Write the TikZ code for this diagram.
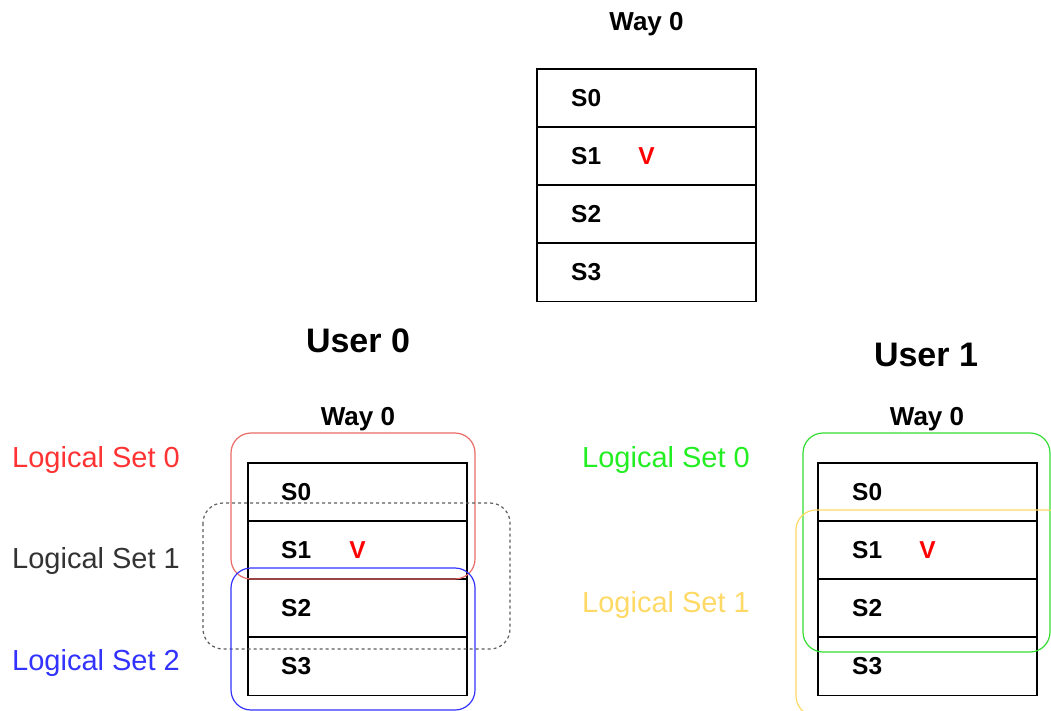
\documentclass[tikz,border=0pt]{standalone}
\usepackage{fontspec}
\setmainfont{Liberation Sans}
\usepackage{tikz}
\definecolor{setred}{HTML}{EA6B66}
\definecolor{txtred}{HTML}{FF3333}
\definecolor{setblue}{HTML}{3333FF}
\definecolor{setgreen}{HTML}{33DD33}
\definecolor{txtgreen}{HTML}{22EE22}
\definecolor{setyellow}{HTML}{FFD966}
\definecolor{txtgray}{HTML}{333333}

\begin{document}
\begin{tikzpicture}[
        x=1pt,y=-1pt,
        row/.style={draw,line width=1.2pt,minimum width=219pt,minimum height=58pt,inner sep=0pt},
        slabel/.style={anchor=west,inner sep=0pt,font=\fontsize{24.5}{26}\selectfont\bfseries},
        vmark/.style={inner sep=0pt,text=red,font=\fontsize{24.5}{26}\selectfont\bfseries},
        title/.style={inner sep=0pt,font=\fontsize{26}{28}\selectfont\bfseries},
        user/.style={inner sep=0pt,font=\fontsize{34}{36}\selectfont\bfseries},
        lset/.style={anchor=base west,inner sep=0pt,font=\fontsize{29}{31}\selectfont},
        setbox/.style={line width=1.2pt,rounded corners=20pt}
      ]
      \useasboundingbox (0,0) rectangle (1051,711);
      % shared way
      \node (way) [title] at (646.5,24) {Way 0};
      \foreach \i/\y in {0/98,1/156,2/214,3/272.5}{
        \node (t\i) [row] at (646.5,\y) {};
        \node (ts\i) [slabel] at (571,\y) {S\i};
      }
      \node (tv) [vmark] at (t1) {V};
      % user 0
      \node (user0) [user] at (358,341) {User 0};
      \node (way0) [title] at (358,419) {Way 0};
      \foreach \i/\y in {0/492,1/550,2/608,3/666.5}{
        \node (a\i) [row] at (357.5,\y) {};
        \node (as\i) [slabel] at (281,\y) {S\i};
      }
      \node (av) [vmark] at (a1) {V};
      \draw[setbox,setred] (231,433) rectangle (475,579);
      \draw[setbox,txtgray!80,dashed] (203,503) rectangle (510,649);
      \draw[setbox,setblue] (231,568) rectangle (475,710);
      \node (l00) [lset,text=txtred] at (12,467) {Logical Set 0};
      \node (l01) [lset,text=txtgray] at (12,568) {Logical Set 1};
      \node (l02) [lset,text=setblue] at (12,670) {Logical Set 2};
      % user 1
      \node (user1) [user] at (926,355) {User 1};
      \node (way1) [title] at (927,419) {Way 0};
      \foreach \i/\y in {0/492,1/550,2/608,3/666.5}{
        \node (b\i) [row] at (927.5,\y) {};
        \node (bs\i) [slabel] at (852,\y) {S\i};
      }
      \node (bv) [vmark] at (b1) {V};
      \draw[setbox,setgreen] (803,433) rectangle (1050,652);
      \draw[setbox,setyellow] (796,510) rectangle (1068,716);
      \node (l10) [lset,text=txtgreen] at (582,467) {Logical Set 0};
      \node (l11) [lset,text=setyellow] at (582,612) {Logical Set 1};
    \end{tikzpicture}
\end{document}
